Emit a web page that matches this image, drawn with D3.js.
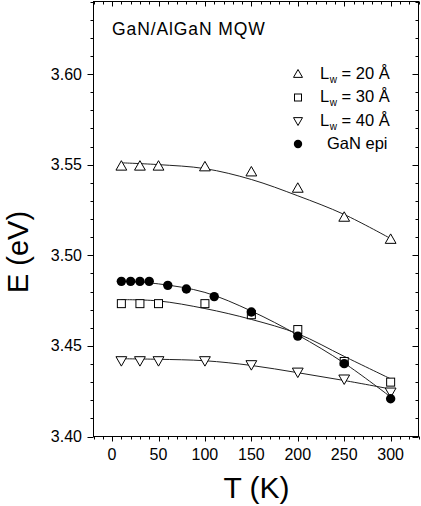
<!DOCTYPE html>
<html><head><meta charset="utf-8">
<script src="https://cdn.jsdelivr.net/npm/d3@7"></script>
<style>body{margin:0;background:#fff}svg{display:block}</style>
</head><body><div id="c"></div>
<script>
// ---- data ----
const tempsQW = [10, 30, 50, 100, 150, 200, 250, 300];
const e20 = [3.5492, 3.5492, 3.5492, 3.5488, 3.5460, 3.5370, 3.5210, 3.5088];
const e30 = [3.4733, 3.4733, 3.4733, 3.4733, 3.4672, 3.4590, 3.4414, 3.4300];
const e40 = [3.4418, 3.4418, 3.4418, 3.4418, 3.4396, 3.4355, 3.4317, 3.4245];
const tempsEpi = [10, 20, 30, 40, 60, 80, 110, 150, 200, 250, 300];
const eEpi = [3.4856, 3.4856, 3.4856, 3.4856, 3.4834, 3.4814, 3.4772, 3.4687, 3.4554, 3.4402, 3.4208];
const fitT = [10, 50, 100, 150, 200, 250, 300];
const fit20 = [3.5510, 3.5500, 3.5478, 3.5418, 3.5328, 3.5225, 3.5092];
const fit30 = [3.4755, 3.4748, 3.4706, 3.4646, 3.4567, 3.4442, 3.4318];
const fit40 = [3.4429, 3.4426, 3.4418, 3.4392, 3.4352, 3.4309, 3.4262];
const fitEpi = [3.4856, 3.4842, 3.4795, 3.4692, 3.4560, 3.4405, 3.4218];
const xTicks = [0, 50, 100, 150, 200, 250, 300];
const yTicks = [3.40, 3.45, 3.50, 3.55, 3.60];
const legendLabels = ["20 Å", "30 Å", "40 Å", "GaN epi"];
const annotation = "GaN/AlGaN MQW";

const W = 421, H = 506;
const FONT = "'Liberation Sans', Arial, sans-serif";
const svg = d3.select("#c").append("svg").attr("width", W).attr("height", H)
  .style("font-family", FONT);
svg.append("rect").attr("width", W).attr("height", H).attr("fill", "#fff");

const L = 93.5, R = 418.5, T = 1.5, B = 436.5;
const x = d3.scaleLinear().domain([-20, 330]).range([L, R]);
const y = d3.scaleLinear().domain([3.40, 3.64]).range([B, T]);

// frame
svg.append("rect").attr("x", L).attr("y", T).attr("width", R - L).attr("height", B - T)
  .attr("fill", "none").attr("stroke", "#000").attr("stroke-width", 1);

// ticks
const xMinor = d3.range(-20, 331, 10);
const yMinor = d3.range(0, 25).map(i => +(3.40 + i * 0.01).toFixed(2));
const isMajX = v => v % 50 === 0;
const isMajY = v => Math.abs(v * 100 % 5) < 1e-6 || Math.abs(v * 100 % 5 - 5) < 1e-6;
const tg = svg.append("g").attr("stroke", "#000").attr("stroke-width", 1);
xMinor.forEach(v => {
  const len = isMajX(v) ? 5 : 3;
  const px = Math.round(x(v)) + 0.5;
  tg.append("line").attr("x1", px).attr("x2", px).attr("y1", B).attr("y2", B + len);
  tg.append("line").attr("x1", px).attr("x2", px).attr("y1", T).attr("y2", T + len);
});
yMinor.forEach(v => {
  const len = isMajY(v) ? 6 : 3;
  const py = Math.round(y(v)) + 0.5;
  tg.append("line").attr("x1", L - len).attr("x2", L).attr("y1", py).attr("y2", py);
  tg.append("line").attr("x1", R - len).attr("x2", R).attr("y1", py).attr("y2", py);
});

// tick labels
svg.append("g").selectAll("text").data(xTicks).join("text")
  .attr("x", d => x(d)).attr("y", 460).attr("text-anchor", "middle")
  .attr("font-size", 16).text(d => d);
svg.append("g").selectAll("text").data(yTicks).join("text")
  .attr("x", 82).attr("y", d => y(d) + 5.5).attr("text-anchor", "end")
  .attr("font-size", 16).text(d => d.toFixed(2));

// axis titles
svg.append("text").attr("x", 256.5).attr("y", 498).attr("text-anchor", "middle")
  .attr("font-size", 30).text("T (K)");
svg.append("text").attr("transform", "translate(28,252) rotate(-90)")
  .attr("text-anchor", "middle").attr("font-size", 29).text("E (eV)");

// annotation
svg.append("text").attr("x", 112).attr("y", 35).attr("font-size", 17.5)
  .attr("letter-spacing", 0.9).text(annotation);

// fit lines
const line = d3.line().x(d => x(d[0])).y(d => y(d[1])).curve(d3.curveCatmullRom);
[fit20, fit30, fit40, fitEpi].forEach(f => {
  svg.append("path").attr("d", line(fitT.map((t, i) => [t, f[i]])))
    .attr("fill", "none").attr("stroke", "#222").attr("stroke-width", 1);
});

// markers
const triUp = (cx, cy, s) => `M${cx},${cy - s * 0.6}L${cx + s * 0.6},${cy + s * 0.45}L${cx - s * 0.6},${cy + s * 0.45}Z`;
const triDown = (cx, cy, s) => `M${cx},${cy + s * 0.6}L${cx + s * 0.6},${cy - s * 0.45}L${cx - s * 0.6},${cy - s * 0.45}Z`;
const mk = svg.append("g");
tempsQW.forEach((t, i) => {
  mk.append("path").attr("d", triUp(x(t), y(e20[i]), 9)).attr("fill", "#fff").attr("stroke", "#000");
});
tempsQW.forEach((t, i) => {
  mk.append("rect").attr("x", x(t) - 4).attr("y", y(e30[i]) - 4).attr("width", 8).attr("height", 8)
    .attr("fill", "#fff").attr("stroke", "#000");
});
tempsQW.forEach((t, i) => {
  mk.append("path").attr("d", triDown(x(t), y(e40[i]), 9)).attr("fill", "#fff").attr("stroke", "#000");
});
tempsEpi.forEach((t, i) => {
  mk.append("circle").attr("cx", x(t)).attr("cy", y(eEpi[i])).attr("r", 4.7).attr("fill", "#000");
});

// legend
const lg = svg.append("g");
const rows = [74, 97.5, 121, 144];
const sx = 298;
lg.append("path").attr("d", triUp(sx, rows[0], 7.5)).attr("fill", "#fff").attr("stroke", "#000");
lg.append("rect").attr("x", sx - 3.5).attr("y", rows[1] - 3.5).attr("width", 7).attr("height", 7).attr("fill", "#fff").attr("stroke", "#000");
lg.append("path").attr("d", triDown(sx, rows[2], 7.5)).attr("fill", "#fff").attr("stroke", "#000");
lg.append("circle").attr("cx", sx).attr("cy", rows[3]).attr("r", 4.2).attr("fill", "#000");
[0, 1, 2].forEach(i => {
  const t = lg.append("text").attr("x", 320).attr("y", rows[i] + 4.5).attr("font-size", 16.5);
  t.append("tspan").text("L");
  t.append("tspan").attr("font-size", 10).attr("dy", 4).attr("dx", 0.5).text("w");
  t.append("tspan").attr("dy", -4).text(" = " + legendLabels[i]);
});
lg.append("text").attr("x", 327).attr("y", rows[3] + 4.5).attr("font-size", 16.5).text(legendLabels[3]);
</script></body></html>
